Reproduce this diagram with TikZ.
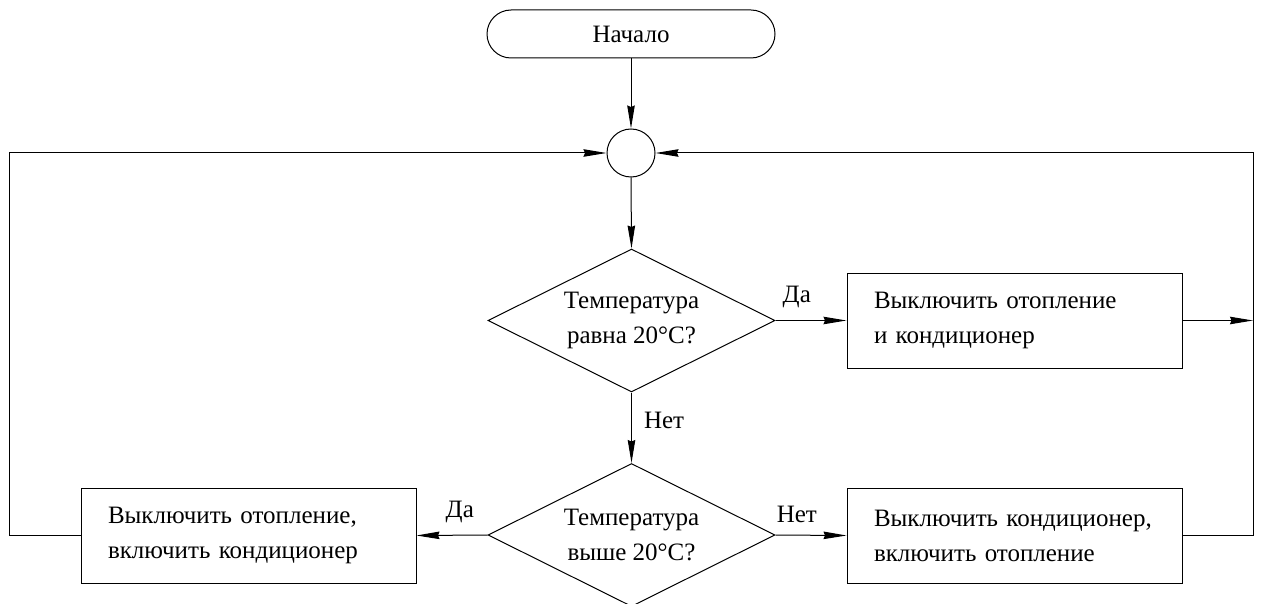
\documentclass[tikz,border=0pt]{standalone}
\usepackage{fontspec}
\setmainfont{LiberationSerif}[Extension=.ttf,UprightFont=*-Regular,BoldFont=*-Bold,ItalicFont=*-Italic,BoldItalicFont=*-BoldItalic]
\usetikzlibrary{shapes.geometric,arrows.meta}
\begin{document}
\begin{tikzpicture}[x=1pt,y=-1pt,
  line width=1pt,
  >={Stealth[length=23pt,width=7.5pt,inset=1.5pt]},
  every node/.style={font=\fontsize{25}{35}\selectfont},
  terminal/.style={draw,rectangle,rounded corners=24pt,minimum width=288pt,minimum height=48pt,inner sep=0pt},
  junction/.style={draw,circle,minimum size=48pt,inner sep=0pt},
  decision/.style={draw,diamond,aspect=2,minimum width=287pt,minimum height=143pt,inner sep=0pt,align=center},
  action/.style={draw,rectangle,minimum height=95pt,inner xsep=27pt,inner ysep=0pt,text width=281pt,align=left},
  lbl/.style={inner sep=2pt}]
\useasboundingbox (0,0) rectangle (1261,604);

% blocks
\node[terminal] (start) at (631,34) {Начало};
\node[junction] (circ) at (631,153) {};
\node[decision] (d1) at (631.5,320.5) {Температура\\равна 20°C?};
\node[decision] (d2) at (631.5,535) {Температура\\выше 20°C?};
\node[action] (b1) at (1014.5,320.5) {Выключить отопление\\и кондиционер};
\node[action] (b2) at (248.5,535.5) {Выключить отопление,\\включить кондиционер};
\node[action] (b3) at (1014.5,535.5) {Выключить кондиционер,\\включить отопление};

% helper points of the return lines
\coordinate (lc) at (9,153);
\coordinate (rc) at (1253,153);
\coordinate (rj) at (1253,320.5);

% main flow
\draw[->] (start.south) -- (circ.north);
\draw[->] (circ.south) -- (d1.north);
\draw[->] (d1.east) -- node[lbl,pos=0.3,above=10pt]{Да} (b1.west);
\draw[->] (d1.south) -- node[lbl,pos=0.4,right=10pt]{Нет} (d2.north);
\draw[->] (d2.west) -- node[lbl,pos=0.39,above=10pt]{Да} (b2.east);
\draw[->] (d2.east) -- node[lbl,pos=0.3,above=10pt]{Нет} (b3.west);

% return lines to the junction
\draw[->] (b1.east) -- (rj);
\draw[->] (b3.east) -| (rc) -- (circ.east);
\draw[->] (b2.west) -| (lc) -- (circ.west);
\end{tikzpicture}
\end{document}
